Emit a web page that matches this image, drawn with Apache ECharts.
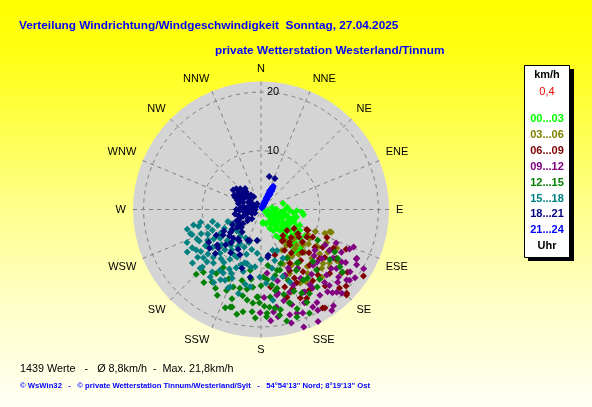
<!DOCTYPE html>
<html>
<head>
<meta charset="utf-8">
<script src="https://cdn.jsdelivr.net/npm/echarts@6/dist/echarts.min.js"></script>
<style>
  html, body { margin: 0; padding: 0; }
  #chart { width: 592px; height: 407px; }
</style>
</head>
<body>
<div id="chart"></div>
<script>
// compass names for the angle axis, clockwise from N
const dirNames = ["N", "NNE", "NE", "ENE", "E", "ESE", "SE", "SSE", "S", "SSW", "SW", "WSW", "W", "WNW", "NW", "NNW"];
const speedMax = 21.8;
const speedTicks = [10, 20];
const bandNames = ["00...03", "03...06", "06...09", "09...12", "12...15", "15...18", "18...21", "21...24"];
const bandColors = ["#00ff00", "#808000", "#800000", "#800080", "#008000", "#008080", "#000080", "#0000ff"];

// [direction deg, speed km/h], one list per 3h band
const band00 = [[100,0.5],[114,1.7],[75,3.9],[92,4.9],[92,6.1],[94,7.0],[109,3.1],[121,4.3],[116,5.5],[106,5.6],[135,3.8],[138,4.8],[126,6.1],[128,7.7],[171,2.2],[80,1.9],[103,4.5],[132,2.8],[121,8.7],[172,2.4],[141,2.4],[139,3.6],[131,5.4],[130,6.9],[147,5.9],[134,8.0],[112,7.1],[118,2.5],[125,3.2],[110,4.0],[98,3.3],[88,2.6],[128,4.5],[135,5.8],[142,7.0],[120,6.5],[113,5.0],[124,7.2],[137,6.5],[150,4.2],[145,3.0],[105,2.0],[96,5.6],[85,4.5],
  [100,1.2],[120,1.0],[130,1.5],[95,2.2],[110,2.8],[125,2.0],[115,3.5],[130,3.6],[140,4.2],[105,4.8],[120,4.8],[133,5.0],[102,6.2],[110,6.0],[118,7.5],[127,8.3],[140,8.0],[145,6.0],[132,7.2],[108,3.8],[92,4.0],[97,7.3],[150,5.2],[155,3.5],[160,2.6],[143,9.0],[135,9.5],[100,4.0],[115,6.6],[125,5.4],[136,10],[140,9.6],[130,9.2]];
const band03 = [[108,12.3],[110.5,11.6],[123,11.3],[130,9.4],[121,9.6],[149,9.5],[144,11.1],[154,17.6],[135,8.6],[124,16.1],[108,12.6],[123.7,11.6],[122.7,13.5],[128.8,8.9],[147.9,11.8],[150.6,9.3],[152.9,7.8],[133.9,12],[134.3,10.4],[151,10.8],[134,14.4],[143.7,13.5],[142,6.6],[138.9,8.8],[124,15.5],[130,15.3],[153.7,17.6],[152,14.2],
  [112,10],[117,12.5],[118,9],[126,10],[127,12.5],[131,14],[136,12.5],[140,10],[141,12.5],[146,9.5],[148,14.5],[145,7.5],[156,12],[158,10],[132,7.5],[125,7.5],[138,15.5],[128,14.8],[117,14.5],[160,15]];
const band06 = [[123,20.8],[126,18.2],[135,20.6],[148,19.8],[121,9.1],[113,12.2],[123,15.3],[135,18.9],[139,12.6],[139,7.4],[136,10.2],[133,16],[129,5.7],[154,13],[114,8.7],[123,7.5],[125,11.2],[136,10.1],[151.8,10.4],[146,12.8],[154,13.9],[163,13.8],[163,8.1],[140,5.8],[127,13.6],[139,14.8],[141,7.8],[113.5,8.5],[134.3,20.4],[147,20],[152.7,17],[163.5,15.6],[173,13.3],[144.6,6.4],[121.5,12.3],[120.7,13.6],
  [118,10],[128,9],[132,11],[130,13],[137,14],[142,11],[145,9],[150,8],[155,11.5],[158,14.5],[160,12],[126,8],[118,14],[115,16],[128,17.5],[132,19.5],[140,17],[144,15],[149,16],[156,16.5],[120,6.5],[133,7],[146,6.5]];
const band09 = [[114,16.5],[117,18.3],[120,18.8],[121,13.6],[124,14.8],[128,16.3],[138,17.4],[137.5,19.1],[145.5,17.7],[150.6,19.7],[153,21.4],[125,18.5],[129.5,18.9],[153,15.8],[147,15.3],[135,15.8],[148,11.8],[161,14.9],[171,16.8],[133,13.1],[123,16.4],[130,15.6],[139,16.5],[146.6,16],[133.5,18],[174.6,10.9],[168.6,14.5],[152,15.9],[128.8,13.3],[160,11.9],[160,21.3],[171,18.5],[173,17.6],[164.7,18.6],[160.9,18.7],[180.5,17.6],[117.5,18.3],[128.6,19.3],[139.4,18.7],[152,18.8],[169.5,14.8],
  [118,15.5],[122,17],[126,19.8],[131,17.5],[136,19.8],[141,18],[143,20.5],[149,18.5],[155,17.5],[158,19],[162,17],[166,16],[157,14],[150,13.5],[142,14],[137,13],[131,12],[127,11.5],[119,12.5],[114,14],[120,20.2],[112,17],[145,21],[165,20],[175,19],[178,15],[167,12.5],[155,11]];
const band12 = [[207,16.4],[214,14.9],[197.5,17.4],[190,17.7],[185,17.5],[195,13.9],[182,14.9],[175,16.7],[170,18.3],[177,18.3],[161.5,19.3],[149,14],[159,12.9],[165,10.7],[178,11.5],[190,10.5],[186,13.3],[213,11.8],[195,12.5],[174,15],[137.5,14],[146,11],[126,14.5],[152,9.4],[168.5,13.7],[154,15.8],[163,16.7],[181,15.9],[222.6,14.5],[118.5,11],[122.5,15.5],[173,9.6],[171.8,13],[145.7,14.1],[145,11],[162.7,10.8],[127.5,17.5],[196.5,17.3],[176.7,17.7],[169,17.4],[163,16.6],[153.7,17.6],[144,16.3],[120,14.5],[126,16.6],[199.7,14],[188.7,15.6],[182.6,14.9],
  [180,13],[185,16],[192,15],[198,16],[203,15],[210,15.5],[218,15.8],[188,12],[175,12],[170,14],[165,15],[158,15],[150,16.5],[140,15.5],[135,12.5],[150,12],[160,9.8],[168,11.5],[178,16.5],[183,18.5],[193,18.3],[200,17.8],[172,17],[160,18],[155,19.5],[205,13],[215,13.3],[225,15.6],[190,13.8],[167,19.5]];
const band15 = [[251,12.7],[257,11.8],[241,13.4],[237,11.3],[230,12.8],[225.5,14],[221.6,12.2],[210.7,12.6],[202.8,12.7],[201.7,14.2],[239.6,8],[227.6,7.8],[223,10.2],[206.6,9.1],[211.7,6.8],[194.5,9.5],[187,5.3],[188,13.3],[216.9,14.4],[244,5.5],[250,7.9],[233.4,6.5],[185,7.5],[172.5,15.6],[181,11.5],[226,14.4],[213,14.8],[164,7.2],[170,11.9],[158.7,7.5],[155.8,9.1],[158.3,13.3],[169.4,10.2],[245,10],[238,9.5],[232,10.5],[228,9],[220,8],[215,11],[208,11.5],[218,13.5],[212,10],[205,12],[198,8],[196,11],[192,13],[235,12.5],[248,11],[252,9.5],[243,7],[236,6],[229,5.5],[222,6.8],[212,7.5],[204,7],[240,14.5],[232,14.8],[246,13.8],[255,13],[202.7,14.5],
  [200,10],[210,9],[225,11.5],[230,9.5],[235,8.5],[240,10.5],[245,12],[250,12.5],[255,11],[247,9],[243,11.8],[238,13],[233,13.5],[226,12.8],[219,10.8],[214,12.5],[207,13.5],[203,10.8],[197,9.5],[193,7],[190,10],[200,6],[208,5.5],[218,5.8],[226,5.3],[235,4.8],[242,4.3],[250,6],[256,8.5],[258,10.5],[230,11.8],[222,9.2],[216,8.5],[210,13.8],[195,14.8],[186,9.8],[180,8.5],[176,12.6],[165,9],[162,12]];
const band18 = [[306,4.8],[312,4.1],[313,3.0],[304,1.8],[267,3.6],[254,2.5],[277,1.4],[326,1.2],[291,3.3],[291,4.3],[235,2.7],[232,3.9],[233,5.1],[233,6.5],[236,7.8],[224,6.8],[203,5.7],[187,5.3],[246,1.7],[247,3.9],[323,4.5],[14,5.8],[24,5.8],[231,9.6],[226,10.8],[218,6.3],[198,10.5],[189,11.7],[171,7.9],[200,5.6],[172,8.2],[300,2.5],[318,3.6],[296,3.8],[285,2.2],[280,3.0],[262,2.0],[240,1.2],[228,4.5],[242,5.5],[260,4.5],[310,2.4],[320,2.8],[298,5.2],[315,5.0],[272,2.6],[250,3.2],[238,4.4],[225,8.5],[215,9.0],[240,8.8],
  [290,2.0],[300,3.5],[305,4.0],[310,3.5],[315,4.2],[320,4.0],[325,3.0],[300,4.5],[295,4.8],[285,4.0],[275,3.5],[270,4.2],[265,3.0],[255,4.0],[245,4.6],[230,3.0],[225,2.2],[220,5.0],[235,6.0],[230,7.0],[222,7.6],[240,7.3],[215,6.5],[210,7.8],[205,8.5],[228,9.8],[233,11],[238,10.5],[280,1.8],[300,1.0],[270,1.0],[250,1.6],[330,2.5],[310,5.5],[305,5.8]];
const band21 = [[27,0.4],[26,0.8],[28,1.0],[25,1.3],[29,1.5],[27,1.8],[26,2.1],[28,2.3],[30,2.5],[27,2.7],[25,2.9],[28,3.1],[29,3.3],[27,3.5],[26,3.7],[28,3.9],[29,4.1],[27,4.3],[30,2.0],[24,1.6],[31,3.0],[28,0.6],[26,3.3],
  [26,0.3],[29,0.8],[27,1.2],[30,1.3],[25,2.2],[29,2.6],[26,2.6],[30,3.6],[27,3.0],[29,3.8],[26,4.0],[28,4.5],[27,2.4],[28,1.9],[25,3.5]];
const bands = [band00, band03, band06, band09, band12, band15, band18, band21];

const font = '"Liberation Sans", Arial, sans-serif';
const cx = 261, cy = 209.5, outer = 128;
const chart = echarts.init(document.getElementById("chart"));

const legendTexts = [
  { type: "text", x: 547, y: 75, style: { text: "km/h", fill: "#000", font: "bold 11px " + font, align: "center", verticalAlign: "middle" } },
  { type: "text", x: 547, y: 92, style: { text: "0,4", fill: "#ff0000", font: "11px " + font, align: "center", verticalAlign: "middle" } }
].concat(bandNames.map((n, i) => ({
  type: "text", x: 547, y: 119 + i * 15.9,
  style: { text: n, fill: bandColors[i], font: "bold 11px " + font, align: "center", verticalAlign: "middle" }
}))).concat([
  { type: "text", x: 547, y: 246, style: { text: "Uhr", fill: "#000", font: "bold 11px " + font, align: "center", verticalAlign: "middle" } }
]);

chart.setOption({
  animation: false,
  backgroundColor: {
    type: "linear", x: 0, y: 0, x2: 0, y2: 1,
    colorStops: [
      { offset: 0, color: "#ffff00" }, { offset: 0.12, color: "#ffff10" },
      { offset: 0.5, color: "#ffff88" }, { offset: 0.75, color: "#ffffc8" }, { offset: 1, color: "#fffff4" }
    ]
  },
  polar: { center: [cx, cy], radius: outer },
  angleAxis: {
    type: "value", min: 0, max: 360, interval: 22.5,
    startAngle: 90, clockwise: true,
    axisLine: { show: false }, axisTick: { show: false },
    axisLabel: {
      margin: 7, color: "#000", fontSize: 11, fontFamily: font,
      formatter: v => dirNames[Math.round(v / 22.5) % 16]
    },
    splitLine: { show: true, lineStyle: { color: "#808080", type: [4, 4], width: 1 } }
  },
  radiusAxis: {
    min: 0, max: speedMax, interval: 10,
    axisLine: { show: false }, axisTick: { show: false },
    axisLabel: {
      color: "#000", fontSize: 11, fontFamily: font, margin: -6, align: "left",
      formatter: v => speedTicks.includes(v) ? String(v) : ""
    },
    splitLine: { show: true, lineStyle: { color: ["#808080", "#808080", "#808080", "rgba(0,0,0,0)"], type: [4, 4], width: 1 } }
  },
  series: bands.map((b, i) => ({
    name: bandNames[i], type: "scatter", coordinateSystem: "polar",
    symbol: "diamond", symbolSize: 7, silent: true, z: 3,
    itemStyle: { color: bandColors[i], opacity: 1 },
    data: b.map(p => [p[1], p[0]])
  })),
  graphic: [
    // grey disc under the polar grid
    { type: "circle", z: -10, shape: { cx: cx, cy: cy, r: outer }, style: { fill: "#d4d4d4" } },
    { type: "text", left: 19, top: 20, style: { text: "Verteilung Windrichtung/Windgeschwindigkeit  Sonntag, 27.04.2025", fill: "#0000ff", font: "bold 11.8px " + font } },
    { type: "text", left: 215, top: 45, style: { text: "private Wetterstation Westerland/Tinnum", fill: "#0000ff", font: "bold 11.8px " + font } },
    { type: "rect", shape: { x: 528, y: 69, width: 46, height: 192 }, style: { fill: "#000" } },
    { type: "rect", shape: { x: 524.5, y: 65.5, width: 45, height: 192 }, style: { fill: "#fff", stroke: "#000", lineWidth: 1 } },
    { type: "group", children: legendTexts },
    { type: "text", left: 20, top: 364, style: { text: "1439 Werte   -   Ø 8,8km/h  -  Max. 21,8km/h", fill: "#000", font: "10.8px " + font } },
    { type: "text", left: 20, top: 382, style: { text: "© WsWin32   -   © private Wetterstation Tinnum/Westerland/Sylt   -   54°54'13'' Nord; 8°19'13'' Ost", fill: "#0000ff", font: "bold 7.7px " + font } }
  ]
});
</script>
</body>
</html>
